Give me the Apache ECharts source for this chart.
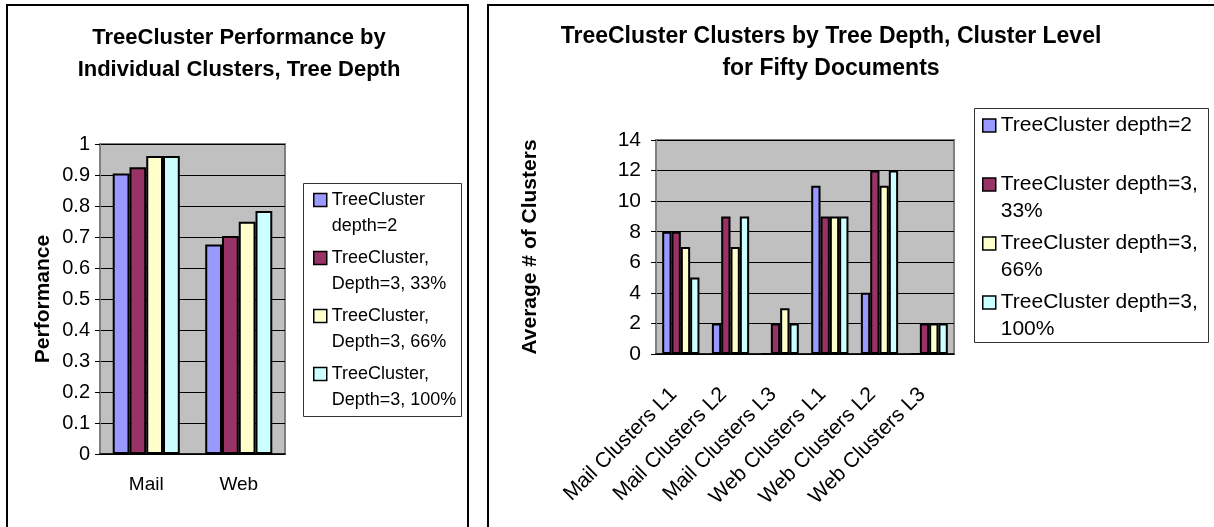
<!DOCTYPE html>
<html>
<head>
<meta charset="utf-8">
<title>TreeCluster charts</title>
<script src="https://cdn.jsdelivr.net/npm/echarts@6/dist/echarts.min.js"></script>
<style>
    html, body { margin: 0; padding: 0; background: #fff; }
    #main { width: 1214px; height: 527px; }
</style>
</head>
<body>
<div id="main"></div>
<script>
// left chart: performance
var perfCategories = ['Mail', 'Web'];
var perfNames = ['TreeCluster\ndepth=2', 'TreeCluster,\nDepth=3, 33%', 'TreeCluster,\nDepth=3, 66%', 'TreeCluster,\nDepth=3, 100%'];
var perfDepth2 = [0.905, 0.676];
var perfDepth3_33 = [0.925, 0.703];
var perfDepth3_66 = [0.961, 0.749];
var perfDepth3_100 = [0.961, 0.784];

// right chart: number of clusters
var clusterCategories = ['Mail Clusters L1', 'Mail Clusters L2', 'Mail Clusters L3', 'Web Clusters L1', 'Web Clusters L2', 'Web Clusters L3'];
var clusterNames = ['TreeCluster depth=2', 'TreeCluster depth=3,\n33%', 'TreeCluster depth=3,\n66%', 'TreeCluster depth=3,\n100%'];
var clustersDepth2 = [8, 2, 0, 11, 4, 0];
var clustersDepth3_33 = [8, 9, 2, 9, 12, 2];
var clustersDepth3_66 = [7, 7, 3, 9, 11, 2];
var clustersDepth3_100 = [5, 9, 2, 9, 12, 2];

var colors = ['#9999FF', '#993366', '#FFFFCC', '#CCFFFF'];
var font = "'Liberation Sans', Arial, sans-serif";

var myChart = echarts.init(document.getElementById('main'));

function barSeries(name, data, axisIdx, gap) {
    return {
        name: name,
        type: 'bar',
        xAxisIndex: axisIdx,
        yAxisIndex: axisIdx,
        data: data,
        barGap: '0%',
        barCategoryGap: gap,
        itemStyle: { borderColor: '#000', borderWidth: 2 }
    };
}

// legend text: a blank line on top so the icon sits next to the first line,
// and a blank line at the bottom for single line entries
function legendText(name) {
    return ' \n' + (name.indexOf('\n') < 0 ? name + '\n ' : name);
}

var perfData = [perfDepth2, perfDepth3_33, perfDepth3_66, perfDepth3_100];
var clusterData = [clustersDepth2, clustersDepth3_33, clustersDepth3_66, clustersDepth3_100];
var series = [];
for (var i = 0; i < 4; i++) series.push(barSeries(perfNames[i], perfData[i], 0, '27.5%'));
for (var j = 0; j < 4; j++) series.push(barSeries(clusterNames[j], clusterData[j], 1, '25%'));

var frame = { fill: 'none', stroke: '#000', lineWidth: 2 };
var legendFrame = { fill: 'none', stroke: '#333', lineWidth: 1 };

var option = {
    animation: false,
    color: colors,
    textStyle: { fontFamily: font, color: '#000' },
    graphic: [
        { type: 'rect', shape: { x: 7, y: 5, width: 461, height: 540 }, style: frame },
        { type: 'rect', shape: { x: 488, y: 5, width: 740, height: 540 }, style: frame },
        { type: 'rect', shape: { x: 303.5, y: 183.5, width: 158, height: 233 }, style: legendFrame },
        { type: 'rect', shape: { x: 974.5, y: 108.5, width: 234, height: 234 }, style: legendFrame }
    ],
    title: [
        {
            text: 'TreeCluster Performance by\nIndividual Clusters, Tree Depth',
            left: 239, top: 22, textAlign: 'center', padding: 0,
            textStyle: { fontFamily: font, fontSize: 22, fontWeight: 'bold', lineHeight: 32, color: '#000' }
        },
        {
            text: 'TreeCluster Clusters by Tree Depth, Cluster Level\nfor Fifty Documents',
            left: 831, top: 21, textAlign: 'center', padding: 0,
            textStyle: { fontFamily: font, fontSize: 23, fontWeight: 'bold', lineHeight: 32, color: '#000' }
        }
    ],
    legend: [
        {
            data: perfNames,
            orient: 'vertical',
            left: 313, top: 161,
            padding: 0,
            itemGap: -20,
            itemWidth: 13, itemHeight: 13,
            icon: 'rect',
            itemStyle: { borderColor: '#000', borderWidth: 1.5 },
            formatter: legendText,
            textStyle: { fontFamily: font, fontSize: 18, lineHeight: 26, color: '#000' }
        },
        {
            data: clusterNames,
            orient: 'vertical',
            left: 982, top: 85,
            padding: 0,
            itemGap: -22,
            itemWidth: 13, itemHeight: 13,
            icon: 'rect',
            itemStyle: { borderColor: '#000', borderWidth: 1.5 },
            formatter: legendText,
            textStyle: { fontFamily: font, fontSize: 21, lineHeight: 27, color: '#000' }
        }
    ],
    grid: [
        { left: 100, top: 144, width: 185, height: 310, show: true, backgroundColor: '#C0C0C0', borderColor: '#808080', borderWidth: 2 },
        { left: 656, top: 140, width: 298, height: 214, show: true, backgroundColor: '#C0C0C0', borderColor: '#808080', borderWidth: 2 }
    ],
    xAxis: [
        {
            type: 'category', gridIndex: 0, data: perfCategories,
            axisLine: { lineStyle: { color: '#000', width: 1.5 } },
            axisTick: { length: 5, lineStyle: { color: '#000' } },
            axisLabel: { fontSize: 19, color: '#000', margin: 21 }
        },
        {
            type: 'category', gridIndex: 1, data: clusterCategories,
            axisLine: { lineStyle: { color: '#000', width: 1.5 } },
            axisTick: { length: 5, lineStyle: { color: '#000' } },
            axisLabel: { fontSize: 21, color: '#000', rotate: 45, interval: 0, margin: 30, padding: [0, 10, 0, 0] }
        }
    ],
    yAxis: [
        {
            type: 'value', gridIndex: 0, min: 0, max: 1, interval: 0.1,
            name: 'Performance', nameLocation: 'middle', nameGap: 46, nameRotate: 90,
            nameTextStyle: { fontSize: 21, fontWeight: 'bold', color: '#000' },
            axisLine: { show: true, lineStyle: { color: '#808080', width: 2 } },
            axisTick: { show: true, length: 5, lineStyle: { color: '#000' } },
            axisLabel: { fontSize: 20, color: '#000', margin: 10 },
            splitLine: { lineStyle: { color: '#000', width: 1 } }
        },
        {
            type: 'value', gridIndex: 1, min: 0, max: 14, interval: 2,
            name: 'Average # of Clusters', nameLocation: 'middle', nameGap: 115, nameRotate: 90,
            nameTextStyle: { fontSize: 21, fontWeight: 'bold', color: '#000' },
            axisLine: { show: true, lineStyle: { color: '#808080', width: 2 } },
            axisTick: { show: true, length: 5, lineStyle: { color: '#000' } },
            axisLabel: { fontSize: 21, color: '#000', margin: 15 },
            splitLine: { lineStyle: { color: '#000', width: 1 } }
        }
    ],
    series: series
};

myChart.setOption(option);
</script>
</body>
</html>
